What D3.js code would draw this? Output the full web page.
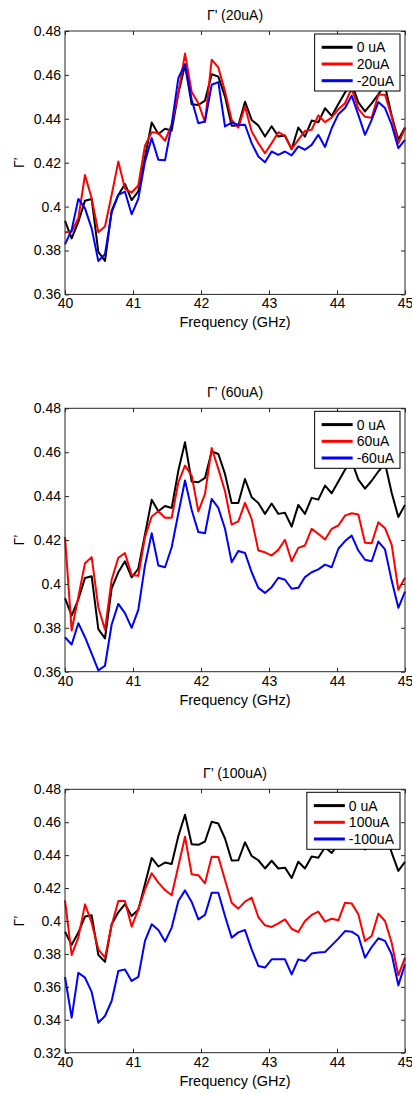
<!DOCTYPE html>
<meta charset="utf-8">
<style>
body { margin: 0; background: #fff; }
svg { display: block; font-family: "Liberation Sans", Arial, Helvetica, sans-serif; }
.axis text { font-size: 14px; fill: #000; }
.axis line { stroke: #262626; }
.axis path { display: none; }
.frame { fill: none; stroke: #262626; stroke-width: 1; }
.series { fill: none; stroke-width: 2; stroke-linejoin: round; }
.legend rect { fill: #fff; stroke: #000; stroke-width: 1; }
.legend text { font-size: 14px; }
</style>
<svg width="412" height="1094"></svg>
<script src="https://cdn.jsdelivr.net/npm/d3@7"></script>
<script>

var freq = [40.000, 40.098, 40.196, 40.294, 40.392, 40.490, 40.588, 40.686, 40.784, 40.882,
  40.980, 41.078, 41.176, 41.275, 41.373, 41.471, 41.569, 41.667, 41.765, 41.863,
  41.961, 42.059, 42.157, 42.255, 42.353, 42.451, 42.549, 42.647, 42.745, 42.843,
  42.941, 43.039, 43.137, 43.235, 43.333, 43.431, 43.529, 43.627, 43.725, 43.824,
  43.922, 44.020, 44.118, 44.216, 44.314, 44.412, 44.510, 44.608, 44.706, 44.804,
  44.902, 45.000];

var zeroUA = [0.3935, 0.3855, 0.3930, 0.4027, 0.4035, 0.3794, 0.3752, 0.3980, 0.4053, 0.4103,
  0.4030, 0.4069, 0.4225, 0.4383, 0.4331, 0.4355, 0.4346, 0.4516, 0.4645, 0.4466,
  0.4463, 0.4483, 0.4603, 0.4592, 0.4501, 0.4368, 0.4369, 0.4478, 0.4395, 0.4369,
  0.4319, 0.4366, 0.4319, 0.4324, 0.4261, 0.4360, 0.4319, 0.4392, 0.4384, 0.4448,
  0.4413, 0.4467, 0.4520, 0.4560, 0.4475, 0.4434, 0.4470, 0.4512, 0.4550, 0.4415,
  0.4305, 0.4360];

var pos20 = [0.3883, 0.3886, 0.3947, 0.4144, 0.4038, 0.3883, 0.3909, 0.4053, 0.4205, 0.4081,
  0.4064, 0.4096, 0.4278, 0.4339, 0.4335, 0.4300, 0.4373, 0.4517, 0.4697, 0.4522,
  0.4471, 0.4385, 0.4669, 0.4634, 0.4525, 0.4395, 0.4360, 0.4456, 0.4342, 0.4289,
  0.4243, 0.4289, 0.4339, 0.4322, 0.4263, 0.4304, 0.4345, 0.4350, 0.4415, 0.4385,
  0.4406, 0.4444, 0.4471, 0.4538, 0.4445, 0.4409, 0.4405, 0.4510, 0.4510, 0.4410,
  0.4288, 0.4356];

var neg20 = [0.3828, 0.3894, 0.4035, 0.3992, 0.3901, 0.3752, 0.3783, 0.3974, 0.4053, 0.4068,
  0.3965, 0.4035, 0.4205, 0.4312, 0.4213, 0.4211, 0.4373, 0.4586, 0.4649, 0.4487,
  0.4380, 0.4388, 0.4555, 0.4567, 0.4365, 0.4383, 0.4372, 0.4373, 0.4289, 0.4228,
  0.4202, 0.4251, 0.4236, 0.4251, 0.4233, 0.4274, 0.4259, 0.4281, 0.4327, 0.4272,
  0.4357, 0.4421, 0.4449, 0.4505, 0.4418, 0.4327, 0.4395, 0.4476, 0.4449, 0.4373,
  0.4266, 0.4304];

var pos60 = [0.4213, 0.3788, 0.3940, 0.4094, 0.4122, 0.3894, 0.3791, 0.4019, 0.4119, 0.4140,
  0.4041, 0.4037, 0.4213, 0.4307, 0.4331, 0.4301, 0.4301, 0.4463, 0.4539, 0.4493,
  0.4330, 0.4410, 0.4619, 0.4524, 0.4422, 0.4270, 0.4285, 0.4369, 0.4296, 0.4152,
  0.4144, 0.4129, 0.4155, 0.4201, 0.4103, 0.4164, 0.4175, 0.4251, 0.4228, 0.4202,
  0.4251, 0.4266, 0.4311, 0.4322, 0.4316, 0.4187, 0.4185, 0.4281, 0.4254, 0.4179,
  0.3973, 0.4028];

var neg60 = [0.3757, 0.3724, 0.3821, 0.3757, 0.3682, 0.3606, 0.3627, 0.3815, 0.3909, 0.3867,
  0.3800, 0.3882, 0.4084, 0.4231, 0.4084, 0.4076, 0.4167, 0.4322, 0.4471, 0.4337,
  0.4236, 0.4231, 0.4387, 0.4346, 0.4251, 0.4099, 0.4150, 0.4141, 0.4053, 0.3982,
  0.3959, 0.3985, 0.4028, 0.4019, 0.3978, 0.3982, 0.4031, 0.4053, 0.4066, 0.4088,
  0.4076, 0.4160, 0.4195, 0.4220, 0.4152, 0.4110, 0.4103, 0.4193, 0.4157, 0.4015,
  0.3891, 0.3965];

var pos100 = [0.4126, 0.3794, 0.3899, 0.4101, 0.3990, 0.3828, 0.3777, 0.3974, 0.4122, 0.4122,
  0.3966, 0.4071, 0.4192, 0.4290, 0.4233, 0.4188, 0.4156, 0.4334, 0.4512, 0.4284,
  0.4278, 0.4229, 0.4391, 0.4389, 0.4249, 0.4111, 0.4075, 0.4118, 0.4142, 0.4024,
  0.3974, 0.3964, 0.3986, 0.4010, 0.3953, 0.3933, 0.4000, 0.4037, 0.4057, 0.3996,
  0.4014, 0.4004, 0.4111, 0.4107, 0.4041, 0.3879, 0.3909, 0.4045, 0.4000, 0.3868,
  0.3670, 0.3777];

var neg100 = [0.3660, 0.3413, 0.3686, 0.3656, 0.3569, 0.3382, 0.3423, 0.3514, 0.3696, 0.3706,
  0.3636, 0.3660, 0.3879, 0.3980, 0.3945, 0.3875, 0.3960, 0.4122, 0.4186, 0.4116,
  0.4010, 0.4037, 0.4172, 0.4172, 0.4030, 0.3899, 0.3931, 0.3945, 0.3828, 0.3727,
  0.3717, 0.3767, 0.3767, 0.3767, 0.3676, 0.3767, 0.3757, 0.3802, 0.3808, 0.3812,
  0.3852, 0.3893, 0.3939, 0.3935, 0.3909, 0.3777, 0.3842, 0.3895, 0.3879, 0.3798,
  0.3609, 0.3737];

var xTicks = [40, 41, 42, 43, 44, 45];
var yTicksA = [0.36, 0.38, 0.40, 0.42, 0.44, 0.46, 0.48];
var yTicksB = [0.32, 0.34, 0.36, 0.38, 0.40, 0.42, 0.44, 0.46, 0.48];

var colors = ["#000000", "#ff0000", "#0000ff"];

var panels = [
  { top: 31, title: "\u0393\u2019 (20uA)", ticks: yTicksA,
    names: ["0 uA", "20uA", "-20uA"], series: [zeroUA, pos20, neg20] },
  { top: 408.3, title: "\u0393\u2019 (60uA)", ticks: yTicksA,
    names: ["0 uA", "60uA", "-60uA"], series: [zeroUA, pos60, neg60] },
  { top: 789.3, title: "\u0393\u2019 (100uA)", ticks: yTicksB,
    names: ["0 uA", "100uA", "-100uA"], series: [zeroUA, pos100, neg100] }
];

var left = 65, right = 405, plotH = 263.4;

var svg = d3.select("svg");

var x = d3.scaleLinear().domain([40, 45]).range([left, right]);

panels.forEach(function(p) {
  var bottom = p.top + plotH;
  var y = d3.scaleLinear()
      .domain([p.ticks[0], p.ticks[p.ticks.length - 1]])
      .range([bottom, p.top]);

  var g = svg.append("g");

  var line = d3.line()
      .x(function(d, i) { return x(freq[i]); })
      .y(function(d) { return y(d); });

  g.selectAll(".series")
    .data(p.series)
    .enter().append("path")
      .attr("class", "series")
      .attr("stroke", function(d, i) { return colors[i]; })
      .attr("d", line);

  g.append("g")
      .attr("class", "axis")
      .attr("transform", "translate(0," + bottom + ")")
      .call(d3.axisBottom(x).tickValues(xTicks).tickSizeInner(-4).tickSizeOuter(0)
        .tickPadding(4).tickFormat(d3.format("d")));

  g.append("g")
      .attr("class", "axis")
      .attr("transform", "translate(0," + p.top + ")")
      .call(d3.axisTop(x).tickValues(xTicks).tickSizeInner(-4).tickSizeOuter(0).tickFormat(""));

  g.append("g")
      .attr("class", "axis")
      .attr("transform", "translate(" + left + ",0)")
      .call(d3.axisLeft(y).tickValues(p.ticks).tickSizeInner(-4).tickSizeOuter(0)
        .tickPadding(4).tickFormat(function(d) { return String(+d.toFixed(2)); }));

  g.append("g")
      .attr("class", "axis")
      .attr("transform", "translate(" + right + ",0)")
      .call(d3.axisRight(y).tickValues(p.ticks).tickSizeInner(-4).tickSizeOuter(0).tickFormat(""));

  g.append("rect")
      .attr("class", "frame")
      .attr("x", left)
      .attr("y", p.top)
      .attr("width", right - left)
      .attr("height", plotH);

  g.append("text")
      .attr("x", (left + right) / 2)
      .attr("y", p.top - 11.5)
      .attr("text-anchor", "middle")
      .style("font-size", "14px")
      .text(p.title);

  g.append("text")
      .attr("x", (left + right) / 2)
      .attr("y", bottom + 33)
      .attr("text-anchor", "middle")
      .style("font-size", "14.5px")
      .text("Frequency (GHz)");

  g.append("text")
      .attr("transform", "translate(19," + (p.top + plotH / 2) + ") rotate(-90)")
      .attr("dy", "0.35em")
      .attr("text-anchor", "middle")
      .style("font-size", "14px")
      .text("\u0393\u2019");

  // legend, sized from its longest label
  var leg = g.append("g").attr("class", "legend");
  var box = leg.append("rect");
  var labels = leg.selectAll("text")
    .data(p.names)
    .enter().append("text")
      .attr("dy", "0.35em")
      .text(function(d) { return d; });
  var maxW = d3.max(labels.nodes(), function(n) { return n.getComputedTextLength(); });
  var bw = 42 + maxW + 6, bx = right - 5 - bw, by = p.top + 3;
  box.attr("x", bx).attr("y", by).attr("width", bw).attr("height", 57);
  labels
      .attr("x", bx + 42)
      .attr("y", function(d, i) { return by + 13.3 + i * 16.7; });
  leg.selectAll("line")
    .data(p.names)
    .enter().append("line")
      .attr("x1", bx + 7)
      .attr("x2", bx + 38)
      .attr("y1", function(d, i) { return by + 13.3 + i * 16.7; })
      .attr("y2", function(d, i) { return by + 13.3 + i * 16.7; })
      .attr("stroke", function(d, i) { return colors[i]; })
      .attr("stroke-width", 3);
});

</script>
